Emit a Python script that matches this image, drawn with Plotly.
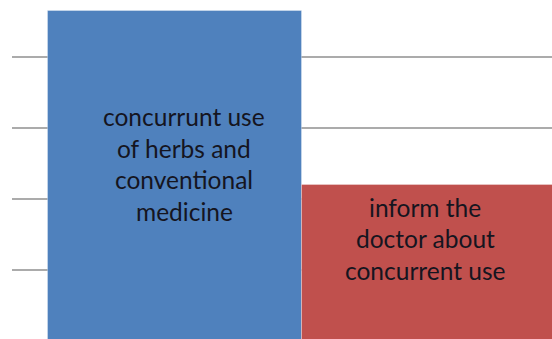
import plotly.graph_objects as go

# Share of respondents (percent)
categories = [0, 1]
values = [46.5, 22.0]
bar_colors = ["#4F81BD", "#C0504D"]

# Text placed inside each bar, one entry per line
blue_lines = ["concurrunt use", "of herbs and", "conventional", "medicine"]
red_lines = ["inform the", "doctor about", "concurrent use"]

W, H = 552, 339
px_per_unit = 7.1
base_px = 341

def y_at(py):
    return (base_px - py) / px_per_unit

fig = go.Figure(
    go.Bar(
        x=categories,
        y=values,
        width=1.0,
        marker=dict(color=bar_colors, line=dict(color="rgba(255,255,255,0.3)", width=1)),
        hoverinfo="skip",
    )
)

annotations = []
for i, line in enumerate(blue_lines):
    annotations.append(dict(x=0.036, y=y_at(116.5 + i * 31.7), text=line))
for i, line in enumerate(red_lines):
    annotations.append(dict(x=0.985, y=y_at(207 + i * 31.7), text=line))
for a in annotations:
    a.update(xref="x", yref="y", showarrow=False, xanchor="center", yanchor="middle",
             font=dict(family="Lato", size=24.5, color="#15151f"))

fig.update_layout(
    width=W,
    height=H,
    margin=dict(l=12, r=0, t=0, b=0),
    paper_bgcolor="white",
    plot_bgcolor="white",
    showlegend=False,
    bargap=0,
    annotations=annotations,
    xaxis=dict(range=[-0.642, 1.484], showgrid=False, zeroline=False,
               showticklabels=False, ticks="", fixedrange=True),
    yaxis=dict(range=[y_at(H), y_at(0)], dtick=10, tick0=0, showgrid=True,
               gridcolor="#ababab", gridwidth=1.6, zeroline=False,
               showticklabels=False, ticks="", fixedrange=True),
)

fig.write_html("out.html")
